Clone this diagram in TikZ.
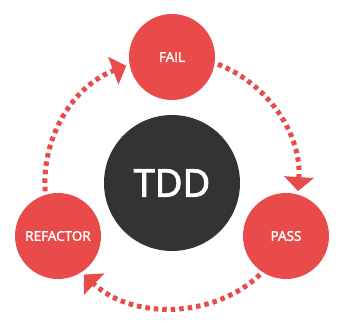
\documentclass[tikz,border=0pt]{standalone}
\usepackage{fontspec}
\setmainfont{Open Sans}
\newfontfamily\semifont[FakeBold=2.5]{Open Sans}
\usetikzlibrary{arrows.meta}
\definecolor{tddred}{HTML}{E94B4B}
\definecolor{tdddark}{HTML}{333333}

\begin{document}
\begin{tikzpicture}[x=1pt,y=1pt,
    stage/.style={circle,fill=tddred,minimum size=86pt,inner sep=0pt,outer sep=3.5pt,
      text=white,font=\semifont\fontsize{13.5}{13.5}\selectfont},
    flow/.style={tddred,line width=5pt,dash pattern=on 4.5pt off 4pt,
      -{Triangle[length=14pt,width=29pt]},looseness=0.95}]
    \useasboundingbox (0,0) rectangle (347,329);
    \node[circle,fill=tdddark,minimum size=136pt,inner sep=0pt,text=white,
      font=\semifont\fontsize{38}{38}\selectfont] (tdd) at (172,146) {TDD};
    \node[stage] (fail) at (172,272) {FAIL};
    \node[stage] (pass) at (286,93) {PASS};
    \node[stage] (refactor) at (58,93) {REFACTOR};
    \draw[flow] (fail.-9) to[bend left=36] (pass.75);
    \draw[flow] (pass.236) to[bend left=43.5] (refactor.-56);
    \draw[flow] (refactor.106) to[bend left=36.75] (fail.191);
\end{tikzpicture}
\end{document}
